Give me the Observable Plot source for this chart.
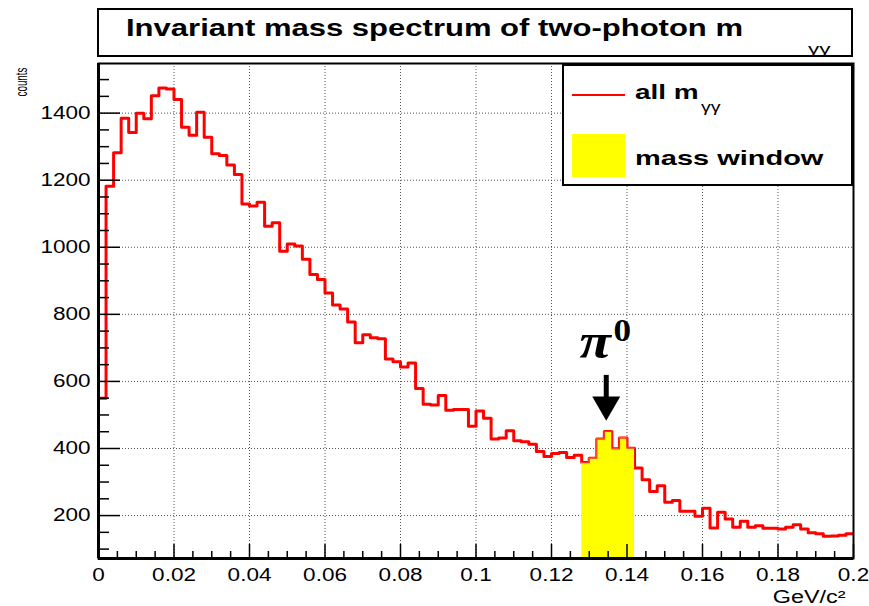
<!DOCTYPE html>
<html>
<head>
<meta charset="utf-8">
<script src="https://cdn.jsdelivr.net/npm/d3@7"></script>
<script src="https://cdn.jsdelivr.net/npm/@observablehq/plot@0.6"></script>
<style>
  html, body { margin: 0; padding: 0; background: #fff; }
  #wrap { position: relative; width: 869px; height: 606px; overflow: hidden;
          font-family: "Liberation Sans", Arial, Helvetica, sans-serif; color: #000; }
  #header { position: relative; height: 61px; }
  .abs { position: absolute; white-space: nowrap; line-height: 1; transform-origin: 0 0; }
  #titlebox { left: 97px; top: 8px; width: 756px; height: 49px; box-sizing: border-box;
              border: 2px solid #000; background: #fff; }
  #legendbox { left: 562px; top: 64px; width: 291px; height: 122px; box-sizing: border-box;
               border: 2px solid #000; background: #fff; }
  #chart svg { display: block; }
</style>
</head>
<body>
<div id="wrap">
  <div id="header">
    <div id="titlebox" class="abs"></div>
    <div id="titletext" class="abs" style="left:126px; top:17px; font-size:23.5px; font-weight:bold; transform:scaleX(1.32);">Invariant mass spectrum of two-photon m</div>
    <div id="titlesub" class="abs" style="left:808px; top:41px; font-size:15px; transform:scaleX(1.5);">γγ</div>
  </div>
  <div id="chart"></div>
  <div id="legendbox" class="abs"></div>
  <div class="abs" style="left:572px; top:94px; width:53px; height:2px; background:#ff0000;"></div>
  <div class="abs" style="left:635px; top:81px; font-size:21px; font-weight:bold; transform:scaleX(1.33);">all m</div>
  <div class="abs" style="left:701px; top:100px; font-size:14px; transform:scaleX(1.4);">γγ</div>
  <div class="abs" style="left:572px; top:134px; width:53px; height:43px; background:#ffff00;"></div>
  <div class="abs" style="left:635px; top:147px; font-size:21px; font-weight:bold; transform:scaleX(1.38);">mass window</div>
</div>
<script>
// ---- data ----
const binWidth = 0.002;               // GeV/c^2 per bin, 100 bins from 0 to 0.2
const binCounts = [
  550,1182,1282,1385,1342,1400,1383,1452,1475,1472,
  1441,1358,1334,1403,1328,1279,1274,1245,1217,1129,
  1123,1134,1063,1073,988,1010,1004,964,919,904,
  864,828,816,777,715,739,730,727,667,659,
  643,655,579,532,530,558,514,516,516,466,
  512,490,428,431,453,423,420,413,391,376,
  385,388,373,380,358,371,428,451,399,431,
  401,342,307,272,289,240,245,213,213,198,
  222,163,210,190,165,183,165,170,162,162,
  160,165,173,160,149,146,138,139,141,146
];
const massWindow = [0.128, 0.142];
const yDomain = [72, 1548];
const xDomain = [0, 0.2];
const xMajor = [0, 0.02, 0.04, 0.06, 0.08, 0.1, 0.12, 0.14, 0.16, 0.18, 0.2];
const xLabels = ["0", "0.02", "0.04", "0.06", "0.08", "0.1", "0.12", "0.14", "0.16", "0.18", "0.2"];
const yMajor = [200, 400, 600, 800, 1000, 1200, 1400];
const yLabels = ["200", "400", "600", "800", "1000", "1200", "1400"];
const pi0Arrow = [{x: 0.1345, yTop: 618, yHead: 531}];
const pi0Text = [{x: 0.1345, y: 669, ySup: 722}];

// ---- derived tables ----
const bins = binCounts.map((c, i) => ({x1: i * binWidth, x2: (i + 1) * binWidth, count: c}));
const iStart = Math.round(massWindow[0] / binWidth), iEnd = Math.round(massWindow[1] / binWidth);
const windowBins = bins.slice(iStart, iEnd);
const windowPts = windowBins.map(b => ({x: b.x1, y: b.count}))
  .concat([{x: windowBins[windowBins.length - 1].x2, y: windowBins[windowBins.length - 1].count}]);
const stepPts = [{x: xDomain[0], y: yDomain[0]}]
  .concat(bins.map(b => ({x: b.x1, y: b.count})))
  .concat([{x: xDomain[1], y: binCounts[binCounts.length - 1]}]);
const xMinor = d3.range(0, 0.2001, 0.005).filter(v => !xMajor.some(m => Math.abs(m - v) < 1e-9));
const yMinor = d3.range(100, 1550, 50).filter(v => v % 200 !== 0);

const W = 869, H = 544, mL = 98, mR = 16, mT = 2, mB = 47;
const frameW = W - mL - mR, frameH = H - mT - mB;
const grid = {stroke: "#555", strokeOpacity: 1, strokeDasharray: "1,2", strokeWidth: 1};

const svg = Plot.plot({
  width: W, height: H,
  marginLeft: mL, marginRight: mR, marginTop: mT, marginBottom: mB,
  style: {fontFamily: "'Liberation Sans', Arial, Helvetica, sans-serif", fontSize: "18px", color: "#000", background: "#fff", overflow: "visible"},
  x: {domain: xDomain, label: null},
  y: {domain: yDomain, label: null},
  marks: [
    Plot.gridX(xMajor.slice(1, -1), grid),
    Plot.gridY(yMajor, grid),
    Plot.line(stepPts, {x: "x", y: "y", curve: "step-after", stroke: "#ff0000", strokeWidth: 3, clip: true}),
    Plot.areaY(windowPts, {x: "x", y1: () => yDomain[0], y2: "y", curve: "step-after", fill: "#ffff00"}),
    Plot.line(windowPts, {x: "x", y: "y", curve: "step-after", stroke: "#ff3030", strokeWidth: 1.2}),
    Plot.tickY(yMinor, {stroke: "#000", strokeWidth: 1.5, insetRight: frameW - 11}),
    Plot.tickY(yMajor, {stroke: "#000", strokeWidth: 1.5, insetRight: frameW - 22}),
    Plot.tickX(xMinor, {stroke: "#000", strokeWidth: 1.5, insetTop: frameH - 7}),
    Plot.tickX(xMajor, {stroke: "#000", strokeWidth: 1.5, insetTop: frameH - 14}),
    Plot.frame({stroke: "#000", strokeWidth: 2}),
    Plot.ruleX([xDomain[0]], {stroke: "#000", strokeWidth: 3}),
    Plot.ruleY([yDomain[0]], {stroke: "#000", strokeWidth: 3}),
    Plot.axisY(yMajor, {tickSize: 0, tickPadding: 8, label: null, fontSize: 18, tickFormat: d => yLabels[yMajor.indexOf(d)]}),
    Plot.axisX(xMajor, {tickSize: 0, tickPadding: 10, label: null, fontSize: 18, tickFormat: d => xLabels[xMajor.indexOf(d)]}),
    Plot.ruleX(pi0Arrow, {x: "x", y1: "yTop", y2: d => d.yHead + 10, stroke: "#000", strokeWidth: 5}),
    Plot.dot(pi0Arrow, {x: "x", y: "yHead", symbol: "triangle", r: 10.4, rotate: 180, fill: "#000", stroke: null}),
    Plot.text(pi0Text, {x: "x", y: "y", text: () => "π", fontFamily: "'Liberation Serif', 'DejaVu Serif', serif", fontWeight: "bold", fontStyle: "italic", fontSize: 50, textAnchor: "middle", lineAnchor: "bottom", dx: -11}),
    Plot.text(pi0Text, {x: "x", y: "ySup", text: () => "0", fontFamily: "'Liberation Serif', 'DejaVu Serif', serif", fontWeight: "bold", fontSize: 32, textAnchor: "middle", lineAnchor: "bottom", dx: 16}),
    Plot.text(["GeV/c²"], {frameAnchor: "bottom-right", textAnchor: "end", lineAnchor: "bottom", dx: -8, dy: 44, fontSize: 18}),
    Plot.text(["counts"], {frameAnchor: "top-left", rotate: -90, textAnchor: "end", lineAnchor: "bottom", dx: -72, dy: 4, fontSize: 17})
  ]
});
document.getElementById("chart").append(svg);

// horizontally widen glyphs as in the reference picture
d3.select(svg).selectAll("text").each(function () {
  const inTick = this.closest('g[aria-label$="tick label"]');
  const t = this.textContent;
  let len = null;
  const w = this.getComputedTextLength();
  if (inTick) len = w * 1.25;
  else if (t === "counts") len = 29;
  else if (t === "GeV/c²") len = w * 1.3;
  else if (t === "π") len = w * 1.15;
  else if (t === "0") len = w * 1.1;
  if (len) { this.setAttribute("textLength", len); this.setAttribute("lengthAdjust", "spacingAndGlyphs"); }
});
</script>
</body>
</html>
